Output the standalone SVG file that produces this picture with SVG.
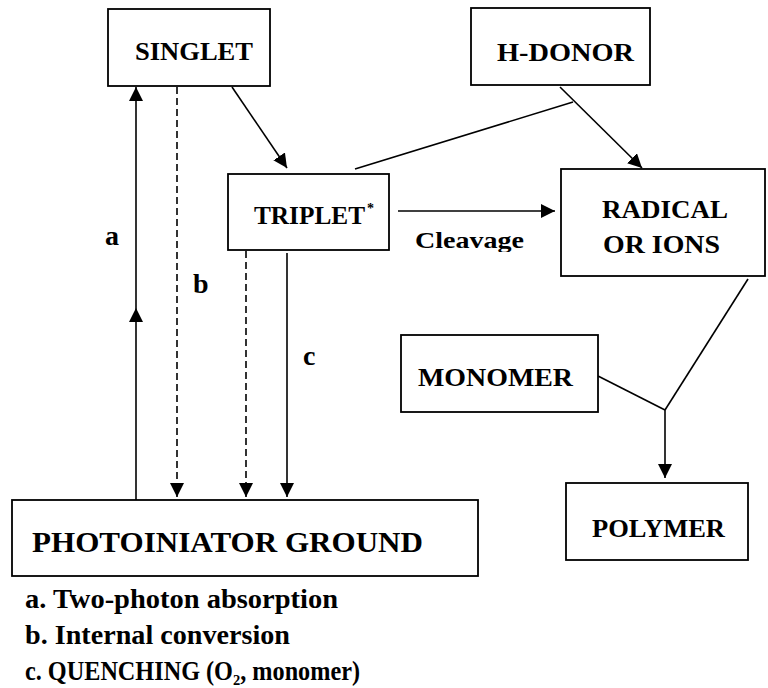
<svg xmlns="http://www.w3.org/2000/svg" width="768" height="688" viewBox="0 0 768 688">
<style>
.box{fill:#fff;stroke:#000;stroke-width:1.8}
.t{font-family:"Liberation Serif","Times New Roman","DejaVu Serif",serif;font-weight:bold;fill:#000}
.n{font-size:26px}
.ln{fill:none;stroke:#000;stroke-width:1.6}
.dash{stroke-dasharray:7,4}
</style>
<defs>
<marker id="ah" markerUnits="userSpaceOnUse" markerWidth="14" markerHeight="14" refX="14" refY="7" orient="auto" viewBox="0 0 14 14">
<path d="M0,0 L14,7 L0,14 z" fill="#000"/>
</marker>
<clipPath id="clipCleave"><rect x="400" y="220" width="160" height="32"/></clipPath>
</defs>
<rect width="768" height="688" fill="#fff"/>
<g id="connectors">
<path class="ln" d="M136,500 L136,308" marker-end="url(#ah)"/>
<path class="ln" d="M136,308 L136,87" marker-end="url(#ah)"/>
<path class="ln dash" d="M177,87 L177,497" marker-end="url(#ah)"/>
<path class="ln dash" d="M246,251 L246,497" marker-end="url(#ah)"/>
<path class="ln" d="M287,253 L287,497" marker-end="url(#ah)"/>
<path class="ln" d="M232,87 L287,168" marker-end="url(#ah)"/>
<path class="ln" d="M560,87 L642,168" marker-end="url(#ah)"/>
<path class="ln" d="M573,102 L355,169"/>
<path class="ln" d="M398,211 L555,211" marker-end="url(#ah)"/>
<path class="ln" d="M748,279 L665,410"/>
<path class="ln" d="M598,376 L665,410"/>
<path class="ln" d="M665,410 L665,478" marker-end="url(#ah)"/>
</g>
<g id="labels">
<text class="t" x="105" y="245" font-size="28">a</text>
<text class="t" x="193" y="293" font-size="28">b</text>
<text class="t" x="303" y="365" font-size="28">c</text>
<g clip-path="url(#clipCleave)"><text class="t" x="415" y="248" font-size="24" textLength="109" lengthAdjust="spacingAndGlyphs">Cleavage</text></g>
</g>
<g id="singlet">
<rect class="box" x="108" y="9" width="162" height="77"/>
<text class="t n" x="135" y="60" textLength="118" lengthAdjust="spacingAndGlyphs">SINGLET</text>
</g>
<g id="hdonor">
<rect class="box" x="471" y="8" width="179" height="77"/>
<text class="t n" x="497" y="61" textLength="137" lengthAdjust="spacingAndGlyphs">H-DONOR</text>
</g>
<g id="triplet">
<rect class="box" x="228" y="174" width="161" height="76"/>
<text class="t" x="254" y="224" font-size="25" textLength="111" lengthAdjust="spacingAndGlyphs">TRIPLET</text>
<text class="t" x="367" y="213" font-size="14">*</text>
</g>
<g id="radical">
<rect class="box" x="561" y="169" width="204" height="107"/>
<text class="t n" x="602" y="218" textLength="126" lengthAdjust="spacingAndGlyphs">RADICAL</text>
<text class="t n" x="603" y="253" textLength="117" lengthAdjust="spacingAndGlyphs">OR IONS</text>
</g>
<g id="monomer">
<rect class="box" x="401" y="335" width="197" height="77"/>
<text class="t n" x="418" y="386" textLength="155" lengthAdjust="spacingAndGlyphs">MONOMER</text>
</g>
<g id="polymer">
<rect class="box" x="566" y="483" width="182" height="77"/>
<text class="t n" x="592" y="537" textLength="133" lengthAdjust="spacingAndGlyphs">POLYMER</text>
</g>
<g id="ground">
<rect class="box" x="12" y="500" width="466" height="76"/>
<text class="t" x="32" y="552" font-size="30" textLength="391" lengthAdjust="spacingAndGlyphs">PHOTOINIATOR GROUND</text>
</g>
<g id="legend">
<text class="t" x="25" y="608" font-size="27" textLength="313" lengthAdjust="spacingAndGlyphs">a. Two-photon absorption</text>
<text class="t" x="25" y="644" font-size="27" textLength="265" lengthAdjust="spacingAndGlyphs">b. Internal conversion</text>
<text class="t" x="25" y="680" font-size="27" textLength="335" lengthAdjust="spacingAndGlyphs">c. QUENCHING (O₂, monomer)</text>
</g>
</svg>
